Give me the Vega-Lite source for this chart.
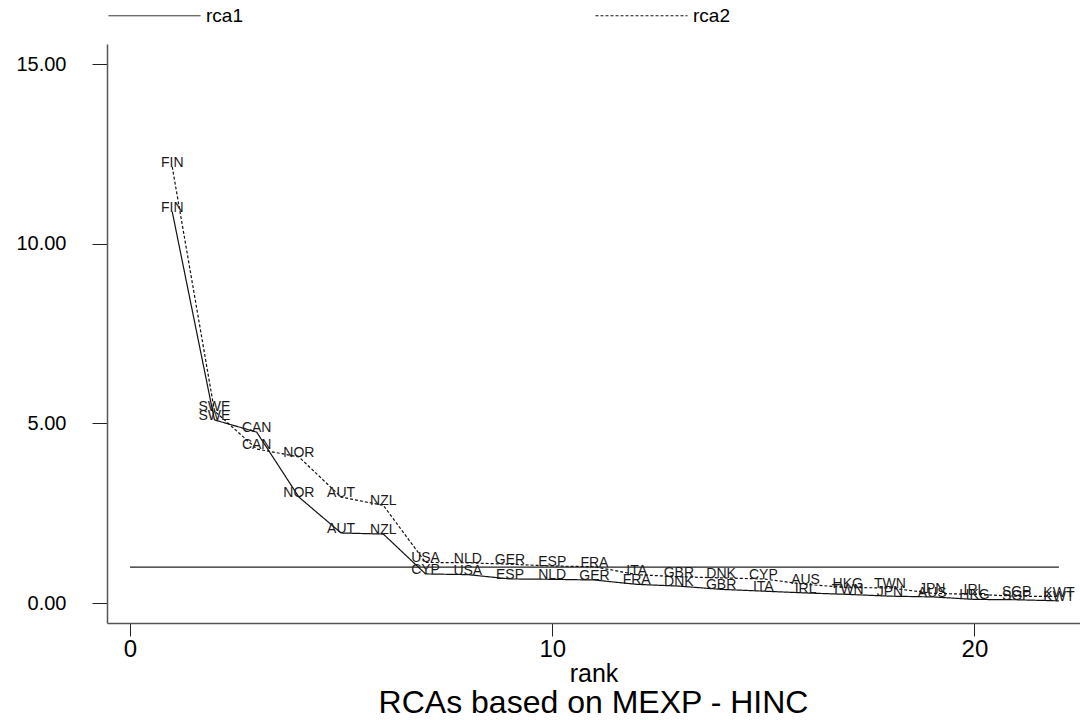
{
  "$schema": "https://vega.github.io/schema/vega-lite/v6.json",
  "autosize": {"type": "none"},
  "padding": {"left": 107, "top": 44, "right": 0, "bottom": 97},
  "width": 973,
  "height": 579,
  "background": "white",
  "config": {
    "font": "Liberation Sans",
    "view": {"stroke": null},
    "axis": {"grid": false, "domainColor": "#555", "domainWidth": 1.5, "tickColor": "#222", "tickWidth": 1, "labelColor": "#000", "titleColor": "#000", "labelFont": "Liberation Sans", "titleFont": "Liberation Sans", "titleFontWeight": "normal"}
  },
  "title": {
    "text": "RCAs based on MEXP - HINC",
    "orient": "bottom",
    "anchor": "middle",
    "fontSize": 32,
    "fontWeight": "normal",
    "color": "#000",
    "offset": 2,
    "font": "Liberation Sans"
  },
  "datasets": {
    "ranked": [
      {"rank": 1, "country": "FIN", "series": "rca1", "rca": 10.9},
      {"rank": 2, "country": "SWE", "series": "rca1", "rca": 5.10},
      {"rank": 3, "country": "CAN", "series": "rca1", "rca": 4.76},
      {"rank": 4, "country": "NOR", "series": "rca1", "rca": 2.95},
      {"rank": 5, "country": "AUT", "series": "rca1", "rca": 1.95},
      {"rank": 6, "country": "NZL", "series": "rca1", "rca": 1.92},
      {"rank": 7, "country": "CYP", "series": "rca1", "rca": 0.81},
      {"rank": 8, "country": "USA", "series": "rca1", "rca": 0.79},
      {"rank": 9, "country": "ESP", "series": "rca1", "rca": 0.67},
      {"rank": 10, "country": "NLD", "series": "rca1", "rca": 0.66},
      {"rank": 11, "country": "GER", "series": "rca1", "rca": 0.64},
      {"rank": 12, "country": "FRA", "series": "rca1", "rca": 0.52},
      {"rank": 13, "country": "DNK", "series": "rca1", "rca": 0.47},
      {"rank": 14, "country": "GBR", "series": "rca1", "rca": 0.38},
      {"rank": 15, "country": "ITA", "series": "rca1", "rca": 0.33},
      {"rank": 16, "country": "IRL", "series": "rca1", "rca": 0.28},
      {"rank": 17, "country": "TWN", "series": "rca1", "rca": 0.24},
      {"rank": 18, "country": "JPN", "series": "rca1", "rca": 0.19},
      {"rank": 19, "country": "AUS", "series": "rca1", "rca": 0.17},
      {"rank": 20, "country": "HKG", "series": "rca1", "rca": 0.10},
      {"rank": 21, "country": "SGP", "series": "rca1", "rca": 0.09},
      {"rank": 22, "country": "KWT", "series": "rca1", "rca": 0.06},
      {"rank": 1, "country": "FIN", "series": "rca2", "rca": 12.15},
      {"rank": 2, "country": "SWE", "series": "rca2", "rca": 5.35},
      {"rank": 3, "country": "CAN", "series": "rca2", "rca": 4.29},
      {"rank": 4, "country": "NOR", "series": "rca2", "rca": 4.07},
      {"rank": 5, "country": "AUT", "series": "rca2", "rca": 2.95},
      {"rank": 6, "country": "NZL", "series": "rca2", "rca": 2.72},
      {"rank": 7, "country": "USA", "series": "rca2", "rca": 1.13},
      {"rank": 8, "country": "NLD", "series": "rca2", "rca": 1.12},
      {"rank": 9, "country": "GER", "series": "rca2", "rca": 1.08},
      {"rank": 10, "country": "ESP", "series": "rca2", "rca": 1.03},
      {"rank": 11, "country": "FRA", "series": "rca2", "rca": 1.01},
      {"rank": 12, "country": "ITA", "series": "rca2", "rca": 0.79},
      {"rank": 13, "country": "GBR", "series": "rca2", "rca": 0.73},
      {"rank": 14, "country": "DNK", "series": "rca2", "rca": 0.70},
      {"rank": 15, "country": "CYP", "series": "rca2", "rca": 0.67},
      {"rank": 16, "country": "AUS", "series": "rca2", "rca": 0.52},
      {"rank": 17, "country": "HKG", "series": "rca2", "rca": 0.43},
      {"rank": 18, "country": "TWN", "series": "rca2", "rca": 0.42},
      {"rank": 19, "country": "JPN", "series": "rca2", "rca": 0.27},
      {"rank": 20, "country": "IRL", "series": "rca2", "rca": 0.24},
      {"rank": 21, "country": "SGP", "series": "rca2", "rca": 0.19},
      {"rank": 22, "country": "KWT", "series": "rca2", "rca": 0.18}
    ],
    "unity": [
      {"rank": 0, "rca": 1},
      {"rank": 22, "rca": 1}
    ]
  },
  "encoding": {
    "x": {
      "field": "rank",
      "type": "quantitative",
      "scale": {"domain": [-0.545, 22.5], "nice": false, "zero": false},
      "axis": {
        "title": "rank",
        "values": [0, 10, 20],
        "format": "d",
        "tickSize": 13,
        "labelPadding": 1,
        "labelFontSize": 24,
        "titleFontSize": 25,
        "titlePadding": 0
      }
    },
    "y": {
      "field": "rca",
      "type": "quantitative",
      "scale": {"domain": [-0.557, 15.57], "nice": false, "zero": false},
      "axis": {
        "title": null,
        "values": [0, 5, 10, 15],
        "format": ".2f",
        "tickSize": 15,
        "labelPadding": 26,
        "labelFontSize": 20
      }
    }
  },
  "layer": [
    {
      "data": {"name": "unity"},
      "mark": {"type": "line", "color": "#222", "strokeWidth": 1.3},
      "encoding": {}
    },
    {
      "data": {"name": "ranked"},
      "mark": {"type": "line", "color": "#111", "strokeWidth": 1.2},
      "encoding": {
        "strokeDash": {
          "field": "series",
          "type": "nominal",
          "scale": {"domain": ["rca1", "rca2"], "range": [[1, 0], [3, 2]]},
          "legend": {
            "title": null,
            "orient": "none",
            "legendX": 1,
            "legendY": -75,
            "direction": "horizontal",
            "columns": 2,
            "columnPadding": 350,
            "padding": 0,
            "symbolType": "stroke",
            "symbolSize": 8464,
            "symbolStrokeWidth": 1,
            "symbolStrokeColor": "#111",
            "labelFontSize": 19,
            "labelOffset": 5,
            "labelColor": "#000",
            "labelFont": "Liberation Sans"
          }
        }
      }
    },
    {
      "data": {"name": "ranked"},
      "mark": {"type": "text", "fontSize": 14, "color": "#1a1a1a", "align": "center", "baseline": "middle", "dy": -4, "font": "Liberation Sans"},
      "encoding": {
        "text": {"field": "country", "type": "nominal"}
      }
    }
  ]
}
